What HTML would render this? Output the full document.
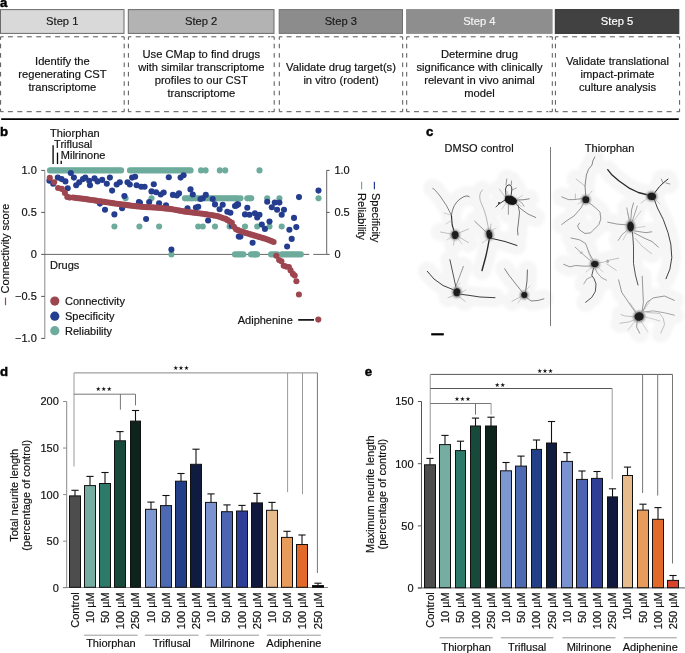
<!DOCTYPE html>
<html><head><meta charset="utf-8"><style>
html,body{margin:0;padding:0;background:#fff;}
svg{display:block;font-family:'Liberation Sans', Arial, Helvetica, sans-serif;}
</style></head><body>
<svg width="685" height="653" viewBox="0 0 685 653">
<text x="0.00" y="6.60" font-size="13.2" text-anchor="start" font-weight="bold" fill="#000" stroke="#000" stroke-width="0.45">a</text>
<rect x="0.50" y="9.60" width="123.50" height="23.80" fill="#d9d9d9" stroke="#6a6a6a" stroke-width="1" />
<text x="62.25" y="25.00" font-size="11.2" text-anchor="middle" font-weight="normal" fill="#1a1a1a"  stroke="#1a1a1a" stroke-width="0.18">Step 1</text>
<rect x="128.30" y="9.60" width="145.70" height="23.80" fill="#b3b3b3" stroke="#6a6a6a" stroke-width="1" />
<text x="201.15" y="25.00" font-size="11.2" text-anchor="middle" font-weight="normal" fill="#1a1a1a"  stroke="#1a1a1a" stroke-width="0.18">Step 2</text>
<rect x="279.20" y="9.60" width="123.30" height="23.80" fill="#8c8c8c" stroke="#707070" stroke-width="1" />
<text x="340.85" y="25.00" font-size="11.2" text-anchor="middle" font-weight="normal" fill="#1a1a1a"  stroke="#1a1a1a" stroke-width="0.18">Step 3</text>
<rect x="406.60" y="9.60" width="145.50" height="23.80" fill="#8e8e8e" stroke="#8e8e8e" stroke-width="1" />
<text x="479.35" y="25.00" font-size="11.2" text-anchor="middle" font-weight="normal" fill="#f4f4f4"  stroke="#f4f4f4" stroke-width="0.18">Step 4</text>
<rect x="555.30" y="9.60" width="123.50" height="23.80" fill="#414141" stroke="#333333" stroke-width="1" />
<text x="617.05" y="25.00" font-size="11.2" text-anchor="middle" font-weight="normal" fill="#ffffff"  stroke="#ffffff" stroke-width="0.18">Step 5</text>
<path d="M0.60,39.80 L0.60,36.80 L3.60,36.80 M121.20,36.80 L124.20,36.80 L124.20,39.80 M124.20,108.70 L124.20,111.70 L121.20,111.70 M3.60,111.70 L0.60,111.70 L0.60,108.70" fill="none" stroke="#555" stroke-width="1"/>
<line x1="7.90" y1="36.80" x2="120.20" y2="36.80" stroke="#555" stroke-width="1" stroke-dasharray="5 4.45"/>
<line x1="7.90" y1="111.70" x2="120.20" y2="111.70" stroke="#555" stroke-width="1" stroke-dasharray="5 4.45"/>
<line x1="0.60" y1="43.70" x2="0.60" y2="107.70" stroke="#555" stroke-width="1" stroke-dasharray="4.6 4.8"/>
<line x1="124.20" y1="43.70" x2="124.20" y2="107.70" stroke="#555" stroke-width="1" stroke-dasharray="4.6 4.8"/>
<text x="62.40" y="64.90" font-size="11.2" text-anchor="middle" font-weight="normal" fill="#111"  stroke="#111" stroke-width="0.18">Identify the</text>
<text x="62.40" y="77.75" font-size="11.2" text-anchor="middle" font-weight="normal" fill="#111"  stroke="#111" stroke-width="0.18">regenerating CST</text>
<text x="62.40" y="90.60" font-size="11.2" text-anchor="middle" font-weight="normal" fill="#111"  stroke="#111" stroke-width="0.18">transcriptome</text>
<path d="M128.40,39.80 L128.40,36.80 L131.40,36.80 M271.20,36.80 L274.20,36.80 L274.20,39.80 M274.20,108.70 L274.20,111.70 L271.20,111.70 M131.40,111.70 L128.40,111.70 L128.40,108.70" fill="none" stroke="#555" stroke-width="1"/>
<line x1="135.70" y1="36.80" x2="270.20" y2="36.80" stroke="#555" stroke-width="1" stroke-dasharray="5 4.45"/>
<line x1="135.70" y1="111.70" x2="270.20" y2="111.70" stroke="#555" stroke-width="1" stroke-dasharray="5 4.45"/>
<line x1="128.40" y1="43.70" x2="128.40" y2="107.70" stroke="#555" stroke-width="1" stroke-dasharray="4.6 4.8"/>
<line x1="274.20" y1="43.70" x2="274.20" y2="107.70" stroke="#555" stroke-width="1" stroke-dasharray="4.6 4.8"/>
<text x="201.30" y="58.47" font-size="11.2" text-anchor="middle" font-weight="normal" fill="#111"  stroke="#111" stroke-width="0.18">Use CMap to find drugs</text>
<text x="201.30" y="71.32" font-size="11.2" text-anchor="middle" font-weight="normal" fill="#111"  stroke="#111" stroke-width="0.18">with similar transcriptome</text>
<text x="201.30" y="84.17" font-size="11.2" text-anchor="middle" font-weight="normal" fill="#111"  stroke="#111" stroke-width="0.18">profiles to our CST</text>
<text x="201.30" y="97.02" font-size="11.2" text-anchor="middle" font-weight="normal" fill="#111"  stroke="#111" stroke-width="0.18">transcriptome</text>
<path d="M279.30,39.80 L279.30,36.80 L282.30,36.80 M399.70,36.80 L402.70,36.80 L402.70,39.80 M402.70,108.70 L402.70,111.70 L399.70,111.70 M282.30,111.70 L279.30,111.70 L279.30,108.70" fill="none" stroke="#555" stroke-width="1"/>
<line x1="286.60" y1="36.80" x2="398.70" y2="36.80" stroke="#555" stroke-width="1" stroke-dasharray="5 4.45"/>
<line x1="286.60" y1="111.70" x2="398.70" y2="111.70" stroke="#555" stroke-width="1" stroke-dasharray="5 4.45"/>
<line x1="279.30" y1="43.70" x2="279.30" y2="107.70" stroke="#555" stroke-width="1" stroke-dasharray="4.6 4.8"/>
<line x1="402.70" y1="43.70" x2="402.70" y2="107.70" stroke="#555" stroke-width="1" stroke-dasharray="4.6 4.8"/>
<text x="341.00" y="71.33" font-size="11.2" text-anchor="middle" font-weight="normal" fill="#111"  stroke="#111" stroke-width="0.18">Validate drug target(s)</text>
<text x="341.00" y="84.17" font-size="11.2" text-anchor="middle" font-weight="normal" fill="#111"  stroke="#111" stroke-width="0.18">in vitro (rodent)</text>
<path d="M406.70,39.80 L406.70,36.80 L409.70,36.80 M549.30,36.80 L552.30,36.80 L552.30,39.80 M552.30,108.70 L552.30,111.70 L549.30,111.70 M409.70,111.70 L406.70,111.70 L406.70,108.70" fill="none" stroke="#555" stroke-width="1"/>
<line x1="414.00" y1="36.80" x2="548.30" y2="36.80" stroke="#555" stroke-width="1" stroke-dasharray="5 4.45"/>
<line x1="414.00" y1="111.70" x2="548.30" y2="111.70" stroke="#555" stroke-width="1" stroke-dasharray="5 4.45"/>
<line x1="406.70" y1="43.70" x2="406.70" y2="107.70" stroke="#555" stroke-width="1" stroke-dasharray="4.6 4.8"/>
<line x1="552.30" y1="43.70" x2="552.30" y2="107.70" stroke="#555" stroke-width="1" stroke-dasharray="4.6 4.8"/>
<text x="479.50" y="58.47" font-size="11.2" text-anchor="middle" font-weight="normal" fill="#111"  stroke="#111" stroke-width="0.18">Determine drug</text>
<text x="479.50" y="71.32" font-size="11.2" text-anchor="middle" font-weight="normal" fill="#111"  stroke="#111" stroke-width="0.18">significance with clinically</text>
<text x="479.50" y="84.17" font-size="11.2" text-anchor="middle" font-weight="normal" fill="#111"  stroke="#111" stroke-width="0.18">relevant in vivo animal</text>
<text x="479.50" y="97.02" font-size="11.2" text-anchor="middle" font-weight="normal" fill="#111"  stroke="#111" stroke-width="0.18">model</text>
<path d="M555.40,39.80 L555.40,36.80 L558.40,36.80 M676.60,36.80 L679.60,36.80 L679.60,39.80 M679.60,108.70 L679.60,111.70 L676.60,111.70 M558.40,111.70 L555.40,111.70 L555.40,108.70" fill="none" stroke="#555" stroke-width="1"/>
<line x1="562.70" y1="36.80" x2="675.60" y2="36.80" stroke="#555" stroke-width="1" stroke-dasharray="5 4.45"/>
<line x1="562.70" y1="111.70" x2="675.60" y2="111.70" stroke="#555" stroke-width="1" stroke-dasharray="5 4.45"/>
<line x1="555.40" y1="43.70" x2="555.40" y2="107.70" stroke="#555" stroke-width="1" stroke-dasharray="4.6 4.8"/>
<line x1="679.60" y1="43.70" x2="679.60" y2="107.70" stroke="#555" stroke-width="1" stroke-dasharray="4.6 4.8"/>
<text x="617.50" y="64.90" font-size="11.2" text-anchor="middle" font-weight="normal" fill="#111"  stroke="#111" stroke-width="0.18">Validate translational</text>
<text x="617.50" y="77.75" font-size="11.2" text-anchor="middle" font-weight="normal" fill="#111"  stroke="#111" stroke-width="0.18">impact-primate</text>
<text x="617.50" y="90.60" font-size="11.2" text-anchor="middle" font-weight="normal" fill="#111"  stroke="#111" stroke-width="0.18">culture analysis</text>
<line x1="1.20" y1="119.10" x2="678.80" y2="119.10" stroke="#000" stroke-width="1.7" />
<text x="0.00" y="135.80" font-size="13.2" text-anchor="start" font-weight="bold" fill="#000" stroke="#000" stroke-width="0.45">b</text>
<line x1="44.80" y1="170.40" x2="44.80" y2="338.90" stroke="#8a8a8a" stroke-width="1" />
<line x1="41.20" y1="170.40" x2="44.80" y2="170.40" stroke="#555" stroke-width="1" />
<line x1="41.20" y1="212.40" x2="44.80" y2="212.40" stroke="#555" stroke-width="1" />
<line x1="41.20" y1="254.40" x2="44.80" y2="254.40" stroke="#555" stroke-width="1" />
<line x1="41.20" y1="296.40" x2="44.80" y2="296.40" stroke="#555" stroke-width="1" />
<line x1="41.20" y1="338.40" x2="44.80" y2="338.40" stroke="#555" stroke-width="1" />
<text x="36.80" y="174.30" font-size="11" text-anchor="end" font-weight="normal" fill="#111"  stroke="#111" stroke-width="0.18">1.0</text>
<text x="36.80" y="216.30" font-size="11" text-anchor="end" font-weight="normal" fill="#111"  stroke="#111" stroke-width="0.18">0.5</text>
<text x="36.80" y="258.30" font-size="11" text-anchor="end" font-weight="normal" fill="#111"  stroke="#111" stroke-width="0.18">0</text>
<text x="36.80" y="300.30" font-size="11" text-anchor="end" font-weight="normal" fill="#111"  stroke="#111" stroke-width="0.18">−0.5</text>
<text x="36.80" y="342.30" font-size="11" text-anchor="end" font-weight="normal" fill="#111"  stroke="#111" stroke-width="0.18">−1.0</text>
<line x1="44.80" y1="254.40" x2="309.20" y2="254.40" stroke="#666" stroke-width="1" />
<line x1="313.30" y1="254.40" x2="326.70" y2="254.40" stroke="#666" stroke-width="1" />
<line x1="326.70" y1="170.40" x2="326.70" y2="254.40" stroke="#666" stroke-width="1" />
<line x1="326.70" y1="170.40" x2="329.60" y2="170.40" stroke="#555" stroke-width="1" />
<line x1="326.70" y1="212.40" x2="329.60" y2="212.40" stroke="#555" stroke-width="1" />
<line x1="326.70" y1="254.40" x2="329.60" y2="254.40" stroke="#555" stroke-width="1" />
<text x="334.40" y="174.30" font-size="11" text-anchor="start" font-weight="normal" fill="#111"  stroke="#111" stroke-width="0.18">1.0</text>
<text x="334.40" y="216.30" font-size="11" text-anchor="start" font-weight="normal" fill="#111"  stroke="#111" stroke-width="0.18">0.5</text>
<text x="334.40" y="258.30" font-size="11" text-anchor="start" font-weight="normal" fill="#111"  stroke="#111" stroke-width="0.18">0</text>
<text transform="translate(371.9,193.0) rotate(90)" font-size="11" fill="#111" stroke="#111" stroke-width="0.18">Specificity</text>
<text transform="translate(357.8,193.0) rotate(90)" font-size="11" fill="#111" stroke="#111" stroke-width="0.18">Reliability</text>
<line x1="374.40" y1="181.80" x2="374.40" y2="189.20" stroke="#243d8f" stroke-width="1.2" />
<line x1="361.60" y1="181.80" x2="361.60" y2="189.20" stroke="#6dab9c" stroke-width="1.2" />
<text transform="translate(9.4,293.4) rotate(-90)" font-size="11" fill="#111" stroke="#111" stroke-width="0.18">Connectivity score</text>
<line x1="5.50" y1="297.60" x2="5.50" y2="305.20" stroke="#9e4650" stroke-width="1.2" />
<text x="50.00" y="269.30" font-size="11" text-anchor="start" font-weight="normal" fill="#111"  stroke="#111" stroke-width="0.18">Drugs</text>
<text x="50.10" y="136.80" font-size="11" text-anchor="start" font-weight="normal" fill="#111"  stroke="#111" stroke-width="0.18">Thiorphan</text>
<text x="54.10" y="147.70" font-size="11" text-anchor="start" font-weight="normal" fill="#111"  stroke="#111" stroke-width="0.18">Triflusal</text>
<text x="60.80" y="158.70" font-size="11" text-anchor="start" font-weight="normal" fill="#111"  stroke="#111" stroke-width="0.18">Milrinone</text>
<line x1="53.10" y1="145.30" x2="53.10" y2="164.00" stroke="#000" stroke-width="1.3" />
<line x1="57.50" y1="152.60" x2="57.50" y2="164.00" stroke="#000" stroke-width="1.3" />
<line x1="61.20" y1="160.70" x2="61.20" y2="164.00" stroke="#000" stroke-width="1.3" />
<circle cx="50.00" cy="170.40" r="3.05" fill="#6dab9c"/>
<circle cx="52.09" cy="170.40" r="3.05" fill="#6dab9c"/>
<circle cx="54.18" cy="170.40" r="3.05" fill="#6dab9c"/>
<circle cx="56.27" cy="170.40" r="3.05" fill="#6dab9c"/>
<circle cx="58.36" cy="170.40" r="3.05" fill="#6dab9c"/>
<circle cx="60.45" cy="170.40" r="3.05" fill="#6dab9c"/>
<circle cx="62.54" cy="170.40" r="3.05" fill="#6dab9c"/>
<circle cx="64.63" cy="170.40" r="3.05" fill="#6dab9c"/>
<circle cx="66.72" cy="170.40" r="3.05" fill="#6dab9c"/>
<circle cx="68.81" cy="170.40" r="3.05" fill="#6dab9c"/>
<circle cx="70.90" cy="170.40" r="3.05" fill="#6dab9c"/>
<circle cx="72.99" cy="170.40" r="3.05" fill="#6dab9c"/>
<circle cx="75.08" cy="170.40" r="3.05" fill="#6dab9c"/>
<circle cx="77.17" cy="170.40" r="3.05" fill="#6dab9c"/>
<circle cx="79.26" cy="170.40" r="3.05" fill="#6dab9c"/>
<circle cx="81.35" cy="170.40" r="3.05" fill="#6dab9c"/>
<circle cx="83.44" cy="170.40" r="3.05" fill="#6dab9c"/>
<circle cx="85.53" cy="170.40" r="3.05" fill="#6dab9c"/>
<circle cx="87.62" cy="170.40" r="3.05" fill="#6dab9c"/>
<circle cx="89.71" cy="170.40" r="3.05" fill="#6dab9c"/>
<circle cx="91.80" cy="170.40" r="3.05" fill="#6dab9c"/>
<circle cx="93.89" cy="170.40" r="3.05" fill="#6dab9c"/>
<circle cx="95.98" cy="170.40" r="3.05" fill="#6dab9c"/>
<circle cx="98.07" cy="170.40" r="3.05" fill="#6dab9c"/>
<circle cx="100.16" cy="170.40" r="3.05" fill="#6dab9c"/>
<circle cx="102.25" cy="170.40" r="3.05" fill="#6dab9c"/>
<circle cx="104.34" cy="170.40" r="3.05" fill="#6dab9c"/>
<circle cx="106.43" cy="170.40" r="3.05" fill="#6dab9c"/>
<circle cx="108.52" cy="170.40" r="3.05" fill="#6dab9c"/>
<circle cx="110.61" cy="170.40" r="3.05" fill="#6dab9c"/>
<circle cx="112.70" cy="170.40" r="3.05" fill="#6dab9c"/>
<circle cx="114.79" cy="170.40" r="3.05" fill="#6dab9c"/>
<circle cx="116.88" cy="170.40" r="3.05" fill="#6dab9c"/>
<circle cx="118.97" cy="170.40" r="3.05" fill="#6dab9c"/>
<circle cx="121.06" cy="170.40" r="3.05" fill="#6dab9c"/>
<circle cx="130.00" cy="170.40" r="3.05" fill="#6dab9c"/>
<circle cx="132.09" cy="170.40" r="3.05" fill="#6dab9c"/>
<circle cx="134.18" cy="170.40" r="3.05" fill="#6dab9c"/>
<circle cx="136.27" cy="170.40" r="3.05" fill="#6dab9c"/>
<circle cx="138.36" cy="170.40" r="3.05" fill="#6dab9c"/>
<circle cx="140.45" cy="170.40" r="3.05" fill="#6dab9c"/>
<circle cx="142.54" cy="170.40" r="3.05" fill="#6dab9c"/>
<circle cx="144.63" cy="170.40" r="3.05" fill="#6dab9c"/>
<circle cx="146.72" cy="170.40" r="3.05" fill="#6dab9c"/>
<circle cx="148.81" cy="170.40" r="3.05" fill="#6dab9c"/>
<circle cx="150.90" cy="170.40" r="3.05" fill="#6dab9c"/>
<circle cx="152.99" cy="170.40" r="3.05" fill="#6dab9c"/>
<circle cx="155.08" cy="170.40" r="3.05" fill="#6dab9c"/>
<circle cx="157.17" cy="170.40" r="3.05" fill="#6dab9c"/>
<circle cx="159.26" cy="170.40" r="3.05" fill="#6dab9c"/>
<circle cx="161.35" cy="170.40" r="3.05" fill="#6dab9c"/>
<circle cx="163.44" cy="170.40" r="3.05" fill="#6dab9c"/>
<circle cx="165.53" cy="170.40" r="3.05" fill="#6dab9c"/>
<circle cx="167.62" cy="170.40" r="3.05" fill="#6dab9c"/>
<circle cx="169.71" cy="170.40" r="3.05" fill="#6dab9c"/>
<circle cx="171.80" cy="170.40" r="3.05" fill="#6dab9c"/>
<circle cx="173.89" cy="170.40" r="3.05" fill="#6dab9c"/>
<circle cx="175.98" cy="170.40" r="3.05" fill="#6dab9c"/>
<circle cx="178.07" cy="170.40" r="3.05" fill="#6dab9c"/>
<circle cx="180.16" cy="170.40" r="3.05" fill="#6dab9c"/>
<circle cx="182.25" cy="170.40" r="3.05" fill="#6dab9c"/>
<circle cx="184.34" cy="170.40" r="3.05" fill="#6dab9c"/>
<circle cx="186.43" cy="170.40" r="3.05" fill="#6dab9c"/>
<circle cx="188.52" cy="170.40" r="3.05" fill="#6dab9c"/>
<circle cx="190.61" cy="170.40" r="3.05" fill="#6dab9c"/>
<circle cx="201.00" cy="170.40" r="3.05" fill="#6dab9c"/>
<circle cx="205.60" cy="170.40" r="3.05" fill="#6dab9c"/>
<circle cx="219.80" cy="170.40" r="3.05" fill="#6dab9c"/>
<circle cx="225.20" cy="170.40" r="3.05" fill="#6dab9c"/>
<circle cx="259.50" cy="170.40" r="3.05" fill="#6dab9c"/>
<circle cx="125.60" cy="198.37" r="3.05" fill="#6dab9c"/>
<circle cx="151.50" cy="198.37" r="3.05" fill="#6dab9c"/>
<circle cx="184.90" cy="198.37" r="3.05" fill="#6dab9c"/>
<circle cx="187.00" cy="198.37" r="3.05" fill="#6dab9c"/>
<circle cx="189.00" cy="198.37" r="3.05" fill="#6dab9c"/>
<circle cx="191.00" cy="198.37" r="3.05" fill="#6dab9c"/>
<circle cx="193.00" cy="198.37" r="3.05" fill="#6dab9c"/>
<circle cx="195.50" cy="198.37" r="3.05" fill="#6dab9c"/>
<circle cx="197.50" cy="198.37" r="3.05" fill="#6dab9c"/>
<circle cx="199.50" cy="198.37" r="3.05" fill="#6dab9c"/>
<circle cx="202.00" cy="198.37" r="3.05" fill="#6dab9c"/>
<circle cx="204.00" cy="198.37" r="3.05" fill="#6dab9c"/>
<circle cx="206.00" cy="198.37" r="3.05" fill="#6dab9c"/>
<circle cx="208.00" cy="198.37" r="3.05" fill="#6dab9c"/>
<circle cx="210.00" cy="198.37" r="3.05" fill="#6dab9c"/>
<circle cx="212.00" cy="198.37" r="3.05" fill="#6dab9c"/>
<circle cx="214.00" cy="198.37" r="3.05" fill="#6dab9c"/>
<circle cx="216.00" cy="198.37" r="3.05" fill="#6dab9c"/>
<circle cx="218.00" cy="198.37" r="3.05" fill="#6dab9c"/>
<circle cx="220.00" cy="198.37" r="3.05" fill="#6dab9c"/>
<circle cx="222.00" cy="198.37" r="3.05" fill="#6dab9c"/>
<circle cx="224.00" cy="198.37" r="3.05" fill="#6dab9c"/>
<circle cx="226.00" cy="198.37" r="3.05" fill="#6dab9c"/>
<circle cx="228.00" cy="198.37" r="3.05" fill="#6dab9c"/>
<circle cx="230.00" cy="198.37" r="3.05" fill="#6dab9c"/>
<circle cx="232.00" cy="198.37" r="3.05" fill="#6dab9c"/>
<circle cx="234.00" cy="198.37" r="3.05" fill="#6dab9c"/>
<circle cx="236.00" cy="198.37" r="3.05" fill="#6dab9c"/>
<circle cx="237.60" cy="198.37" r="3.05" fill="#6dab9c"/>
<circle cx="240.50" cy="198.37" r="3.05" fill="#6dab9c"/>
<circle cx="247.30" cy="198.37" r="3.05" fill="#6dab9c"/>
<circle cx="249.30" cy="198.37" r="3.05" fill="#6dab9c"/>
<circle cx="251.20" cy="198.37" r="3.05" fill="#6dab9c"/>
<circle cx="267.20" cy="198.37" r="3.05" fill="#6dab9c"/>
<circle cx="279.40" cy="198.37" r="3.05" fill="#6dab9c"/>
<circle cx="318.50" cy="198.37" r="3.05" fill="#6dab9c"/>
<circle cx="114.40" cy="226.43" r="3.05" fill="#6dab9c"/>
<circle cx="139.40" cy="226.43" r="3.05" fill="#6dab9c"/>
<circle cx="159.10" cy="226.43" r="3.05" fill="#6dab9c"/>
<circle cx="198.20" cy="226.43" r="3.05" fill="#6dab9c"/>
<circle cx="202.80" cy="226.43" r="3.05" fill="#6dab9c"/>
<circle cx="215.00" cy="226.43" r="3.05" fill="#6dab9c"/>
<circle cx="229.60" cy="226.43" r="3.05" fill="#6dab9c"/>
<circle cx="245.00" cy="226.43" r="3.05" fill="#6dab9c"/>
<circle cx="257.20" cy="226.43" r="3.05" fill="#6dab9c"/>
<circle cx="269.50" cy="226.43" r="3.05" fill="#6dab9c"/>
<circle cx="281.70" cy="226.43" r="3.05" fill="#6dab9c"/>
<circle cx="171.40" cy="254.40" r="3.05" fill="#6dab9c"/>
<circle cx="235.00" cy="254.40" r="3.05" fill="#6dab9c"/>
<circle cx="237.09" cy="254.40" r="3.05" fill="#6dab9c"/>
<circle cx="239.18" cy="254.40" r="3.05" fill="#6dab9c"/>
<circle cx="241.27" cy="254.40" r="3.05" fill="#6dab9c"/>
<circle cx="243.36" cy="254.40" r="3.05" fill="#6dab9c"/>
<circle cx="251.00" cy="254.40" r="3.05" fill="#6dab9c"/>
<circle cx="253.09" cy="254.40" r="3.05" fill="#6dab9c"/>
<circle cx="255.18" cy="254.40" r="3.05" fill="#6dab9c"/>
<circle cx="255.00" cy="254.40" r="3.05" fill="#6dab9c"/>
<circle cx="257.09" cy="254.40" r="3.05" fill="#6dab9c"/>
<circle cx="271.10" cy="254.40" r="3.05" fill="#6dab9c"/>
<circle cx="273.19" cy="254.40" r="3.05" fill="#6dab9c"/>
<circle cx="275.28" cy="254.40" r="3.05" fill="#6dab9c"/>
<circle cx="277.37" cy="254.40" r="3.05" fill="#6dab9c"/>
<circle cx="282.00" cy="254.40" r="3.05" fill="#6dab9c"/>
<circle cx="284.09" cy="254.40" r="3.05" fill="#6dab9c"/>
<circle cx="286.18" cy="254.40" r="3.05" fill="#6dab9c"/>
<circle cx="288.27" cy="254.40" r="3.05" fill="#6dab9c"/>
<circle cx="290.36" cy="254.40" r="3.05" fill="#6dab9c"/>
<circle cx="292.45" cy="254.40" r="3.05" fill="#6dab9c"/>
<circle cx="294.54" cy="254.40" r="3.05" fill="#6dab9c"/>
<circle cx="296.63" cy="254.40" r="3.05" fill="#6dab9c"/>
<circle cx="298.72" cy="254.40" r="3.05" fill="#6dab9c"/>
<circle cx="300.81" cy="254.40" r="3.05" fill="#6dab9c"/>
<circle cx="49.40" cy="180.70" r="3.05" fill="#243d8f"/>
<circle cx="53.20" cy="183.70" r="3.05" fill="#243d8f"/>
<circle cx="57.80" cy="177.60" r="3.05" fill="#243d8f"/>
<circle cx="61.60" cy="179.10" r="3.05" fill="#243d8f"/>
<circle cx="65.40" cy="181.40" r="3.05" fill="#243d8f"/>
<circle cx="67.70" cy="188.30" r="3.05" fill="#243d8f"/>
<circle cx="70.80" cy="173.00" r="3.05" fill="#243d8f"/>
<circle cx="73.90" cy="177.60" r="3.05" fill="#243d8f"/>
<circle cx="76.20" cy="185.30" r="3.05" fill="#243d8f"/>
<circle cx="79.20" cy="182.20" r="3.05" fill="#243d8f"/>
<circle cx="83.00" cy="179.10" r="3.05" fill="#243d8f"/>
<circle cx="85.30" cy="177.60" r="3.05" fill="#243d8f"/>
<circle cx="89.20" cy="180.70" r="3.05" fill="#243d8f"/>
<circle cx="90.00" cy="185.30" r="3.05" fill="#243d8f"/>
<circle cx="94.50" cy="178.40" r="3.05" fill="#243d8f"/>
<circle cx="97.60" cy="181.40" r="3.05" fill="#243d8f"/>
<circle cx="102.20" cy="179.90" r="3.05" fill="#243d8f"/>
<circle cx="106.80" cy="183.70" r="3.05" fill="#243d8f"/>
<circle cx="109.90" cy="177.60" r="3.05" fill="#243d8f"/>
<circle cx="112.10" cy="190.60" r="3.05" fill="#243d8f"/>
<circle cx="116.70" cy="184.50" r="3.05" fill="#243d8f"/>
<circle cx="119.80" cy="182.20" r="3.05" fill="#243d8f"/>
<circle cx="124.40" cy="196.00" r="3.05" fill="#243d8f"/>
<circle cx="127.50" cy="182.20" r="3.05" fill="#243d8f"/>
<circle cx="129.80" cy="184.50" r="3.05" fill="#243d8f"/>
<circle cx="132.10" cy="177.60" r="3.05" fill="#243d8f"/>
<circle cx="135.10" cy="176.80" r="3.05" fill="#243d8f"/>
<circle cx="136.60" cy="185.30" r="3.05" fill="#243d8f"/>
<circle cx="141.20" cy="186.80" r="3.05" fill="#243d8f"/>
<circle cx="99.90" cy="203.60" r="3.05" fill="#243d8f"/>
<circle cx="105.00" cy="209.80" r="3.05" fill="#243d8f"/>
<circle cx="114.40" cy="214.40" r="3.05" fill="#243d8f"/>
<circle cx="122.10" cy="208.20" r="3.05" fill="#243d8f"/>
<circle cx="138.90" cy="202.10" r="3.05" fill="#243d8f"/>
<circle cx="144.60" cy="186.80" r="3.05" fill="#243d8f"/>
<circle cx="153.80" cy="184.20" r="3.05" fill="#243d8f"/>
<circle cx="151.50" cy="191.40" r="3.05" fill="#243d8f"/>
<circle cx="156.10" cy="192.20" r="3.05" fill="#243d8f"/>
<circle cx="160.70" cy="194.50" r="3.05" fill="#243d8f"/>
<circle cx="163.70" cy="192.50" r="3.05" fill="#243d8f"/>
<circle cx="168.80" cy="177.20" r="3.05" fill="#243d8f"/>
<circle cx="180.60" cy="177.60" r="3.05" fill="#243d8f"/>
<circle cx="183.60" cy="175.30" r="3.05" fill="#243d8f"/>
<circle cx="172.90" cy="194.90" r="3.05" fill="#243d8f"/>
<circle cx="176.80" cy="195.50" r="3.05" fill="#243d8f"/>
<circle cx="179.00" cy="193.40" r="3.05" fill="#243d8f"/>
<circle cx="190.50" cy="189.40" r="3.05" fill="#243d8f"/>
<circle cx="192.80" cy="194.50" r="3.05" fill="#243d8f"/>
<circle cx="200.50" cy="199.00" r="3.05" fill="#243d8f"/>
<circle cx="202.80" cy="198.30" r="3.05" fill="#243d8f"/>
<circle cx="205.80" cy="194.90" r="3.05" fill="#243d8f"/>
<circle cx="212.70" cy="199.00" r="3.05" fill="#243d8f"/>
<circle cx="215.00" cy="204.40" r="3.05" fill="#243d8f"/>
<circle cx="219.60" cy="209.30" r="3.05" fill="#243d8f"/>
<circle cx="222.70" cy="204.70" r="3.05" fill="#243d8f"/>
<circle cx="227.30" cy="211.80" r="3.05" fill="#243d8f"/>
<circle cx="230.40" cy="212.80" r="3.05" fill="#243d8f"/>
<circle cx="235.00" cy="206.00" r="3.05" fill="#243d8f"/>
<circle cx="237.20" cy="204.40" r="3.05" fill="#243d8f"/>
<circle cx="140.00" cy="202.90" r="3.05" fill="#243d8f"/>
<circle cx="149.20" cy="202.10" r="3.05" fill="#243d8f"/>
<circle cx="159.10" cy="203.20" r="3.05" fill="#243d8f"/>
<circle cx="166.00" cy="205.20" r="3.05" fill="#243d8f"/>
<circle cx="146.10" cy="219.00" r="3.05" fill="#243d8f"/>
<circle cx="187.50" cy="208.20" r="3.05" fill="#243d8f"/>
<circle cx="195.90" cy="207.50" r="3.05" fill="#243d8f"/>
<circle cx="198.20" cy="206.70" r="3.05" fill="#243d8f"/>
<circle cx="208.10" cy="220.50" r="3.05" fill="#243d8f"/>
<circle cx="171.40" cy="249.60" r="3.05" fill="#243d8f"/>
<circle cx="238.80" cy="236.60" r="3.05" fill="#243d8f"/>
<circle cx="231.90" cy="225.80" r="3.05" fill="#243d8f"/>
<circle cx="236.50" cy="205.60" r="3.05" fill="#243d8f"/>
<circle cx="238.10" cy="204.40" r="3.05" fill="#243d8f"/>
<circle cx="247.30" cy="207.80" r="3.05" fill="#243d8f"/>
<circle cx="245.00" cy="214.40" r="3.05" fill="#243d8f"/>
<circle cx="249.50" cy="214.80" r="3.05" fill="#243d8f"/>
<circle cx="254.90" cy="213.30" r="3.05" fill="#243d8f"/>
<circle cx="257.20" cy="217.40" r="3.05" fill="#243d8f"/>
<circle cx="259.50" cy="214.80" r="3.05" fill="#243d8f"/>
<circle cx="261.80" cy="224.60" r="3.05" fill="#243d8f"/>
<circle cx="264.90" cy="228.90" r="3.05" fill="#243d8f"/>
<circle cx="269.50" cy="221.60" r="3.05" fill="#243d8f"/>
<circle cx="267.20" cy="201.70" r="3.05" fill="#243d8f"/>
<circle cx="271.80" cy="207.20" r="3.05" fill="#243d8f"/>
<circle cx="274.80" cy="202.60" r="3.05" fill="#243d8f"/>
<circle cx="279.40" cy="202.60" r="3.05" fill="#243d8f"/>
<circle cx="277.10" cy="209.80" r="3.05" fill="#243d8f"/>
<circle cx="284.00" cy="209.80" r="3.05" fill="#243d8f"/>
<circle cx="281.70" cy="214.80" r="3.05" fill="#243d8f"/>
<circle cx="299.00" cy="197.10" r="3.05" fill="#243d8f"/>
<circle cx="294.00" cy="217.90" r="3.05" fill="#243d8f"/>
<circle cx="296.30" cy="227.10" r="3.05" fill="#243d8f"/>
<circle cx="289.40" cy="229.70" r="3.05" fill="#243d8f"/>
<circle cx="291.70" cy="238.90" r="3.05" fill="#243d8f"/>
<circle cx="287.10" cy="246.50" r="3.05" fill="#243d8f"/>
<circle cx="240.40" cy="236.60" r="3.05" fill="#243d8f"/>
<circle cx="252.60" cy="242.70" r="3.05" fill="#243d8f"/>
<circle cx="318.50" cy="190.60" r="3.05" fill="#243d8f"/>
<circle cx="49.80" cy="177.90" r="3.05" fill="#9e4650"/>
<circle cx="54.10" cy="182.20" r="3.05" fill="#9e4650"/>
<circle cx="58.10" cy="188.00" r="3.05" fill="#9e4650"/>
<circle cx="61.80" cy="188.90" r="3.05" fill="#9e4650"/>
<circle cx="64.90" cy="192.90" r="3.05" fill="#9e4650"/>
<circle cx="67.30" cy="196.90" r="3.05" fill="#9e4650"/>
<circle cx="69.50" cy="197.60" r="3.05" fill="#9e4650"/>
<circle cx="72.99" cy="197.57" r="3.05" fill="#9e4650"/>
<circle cx="75.08" cy="197.83" r="3.05" fill="#9e4650"/>
<circle cx="77.17" cy="198.09" r="3.05" fill="#9e4650"/>
<circle cx="79.26" cy="198.35" r="3.05" fill="#9e4650"/>
<circle cx="81.35" cy="198.60" r="3.05" fill="#9e4650"/>
<circle cx="83.44" cy="198.86" r="3.05" fill="#9e4650"/>
<circle cx="85.53" cy="199.12" r="3.05" fill="#9e4650"/>
<circle cx="87.62" cy="199.38" r="3.05" fill="#9e4650"/>
<circle cx="89.71" cy="199.69" r="3.05" fill="#9e4650"/>
<circle cx="91.80" cy="200.00" r="3.05" fill="#9e4650"/>
<circle cx="93.89" cy="200.32" r="3.05" fill="#9e4650"/>
<circle cx="95.98" cy="200.63" r="3.05" fill="#9e4650"/>
<circle cx="98.07" cy="200.95" r="3.05" fill="#9e4650"/>
<circle cx="100.16" cy="201.26" r="3.05" fill="#9e4650"/>
<circle cx="102.25" cy="201.58" r="3.05" fill="#9e4650"/>
<circle cx="104.34" cy="201.89" r="3.05" fill="#9e4650"/>
<circle cx="106.43" cy="202.21" r="3.05" fill="#9e4650"/>
<circle cx="108.52" cy="202.52" r="3.05" fill="#9e4650"/>
<circle cx="110.61" cy="202.84" r="3.05" fill="#9e4650"/>
<circle cx="112.70" cy="203.15" r="3.05" fill="#9e4650"/>
<circle cx="114.79" cy="203.47" r="3.05" fill="#9e4650"/>
<circle cx="116.88" cy="203.78" r="3.05" fill="#9e4650"/>
<circle cx="118.97" cy="204.06" r="3.05" fill="#9e4650"/>
<circle cx="121.06" cy="204.33" r="3.05" fill="#9e4650"/>
<circle cx="123.15" cy="204.60" r="3.05" fill="#9e4650"/>
<circle cx="125.24" cy="204.87" r="3.05" fill="#9e4650"/>
<circle cx="127.33" cy="205.14" r="3.05" fill="#9e4650"/>
<circle cx="129.42" cy="205.42" r="3.05" fill="#9e4650"/>
<circle cx="131.51" cy="205.69" r="3.05" fill="#9e4650"/>
<circle cx="133.60" cy="205.92" r="3.05" fill="#9e4650"/>
<circle cx="135.69" cy="206.15" r="3.05" fill="#9e4650"/>
<circle cx="137.78" cy="206.38" r="3.05" fill="#9e4650"/>
<circle cx="139.87" cy="206.60" r="3.05" fill="#9e4650"/>
<circle cx="141.96" cy="206.83" r="3.05" fill="#9e4650"/>
<circle cx="144.05" cy="207.02" r="3.05" fill="#9e4650"/>
<circle cx="146.14" cy="207.11" r="3.05" fill="#9e4650"/>
<circle cx="148.23" cy="207.20" r="3.05" fill="#9e4650"/>
<circle cx="150.32" cy="207.29" r="3.05" fill="#9e4650"/>
<circle cx="152.41" cy="207.38" r="3.05" fill="#9e4650"/>
<circle cx="154.50" cy="207.47" r="3.05" fill="#9e4650"/>
<circle cx="156.59" cy="207.63" r="3.05" fill="#9e4650"/>
<circle cx="158.68" cy="207.83" r="3.05" fill="#9e4650"/>
<circle cx="160.77" cy="208.04" r="3.05" fill="#9e4650"/>
<circle cx="162.86" cy="208.24" r="3.05" fill="#9e4650"/>
<circle cx="164.95" cy="208.45" r="3.05" fill="#9e4650"/>
<circle cx="167.04" cy="208.65" r="3.05" fill="#9e4650"/>
<circle cx="169.13" cy="208.86" r="3.05" fill="#9e4650"/>
<circle cx="171.22" cy="209.11" r="3.05" fill="#9e4650"/>
<circle cx="173.31" cy="209.49" r="3.05" fill="#9e4650"/>
<circle cx="175.40" cy="209.87" r="3.05" fill="#9e4650"/>
<circle cx="177.49" cy="210.25" r="3.05" fill="#9e4650"/>
<circle cx="179.58" cy="210.63" r="3.05" fill="#9e4650"/>
<circle cx="181.67" cy="211.01" r="3.05" fill="#9e4650"/>
<circle cx="183.76" cy="211.39" r="3.05" fill="#9e4650"/>
<circle cx="185.85" cy="211.77" r="3.05" fill="#9e4650"/>
<circle cx="187.94" cy="212.03" r="3.05" fill="#9e4650"/>
<circle cx="190.03" cy="212.27" r="3.05" fill="#9e4650"/>
<circle cx="192.12" cy="212.52" r="3.05" fill="#9e4650"/>
<circle cx="194.21" cy="212.77" r="3.05" fill="#9e4650"/>
<circle cx="196.30" cy="213.01" r="3.05" fill="#9e4650"/>
<circle cx="198.39" cy="213.26" r="3.05" fill="#9e4650"/>
<circle cx="200.48" cy="213.50" r="3.05" fill="#9e4650"/>
<circle cx="202.57" cy="213.79" r="3.05" fill="#9e4650"/>
<circle cx="204.66" cy="214.11" r="3.05" fill="#9e4650"/>
<circle cx="206.75" cy="214.42" r="3.05" fill="#9e4650"/>
<circle cx="208.84" cy="214.73" r="3.05" fill="#9e4650"/>
<circle cx="210.93" cy="215.05" r="3.05" fill="#9e4650"/>
<circle cx="213.02" cy="215.36" r="3.05" fill="#9e4650"/>
<circle cx="215.11" cy="215.68" r="3.05" fill="#9e4650"/>
<circle cx="217.20" cy="216.10" r="3.05" fill="#9e4650"/>
<circle cx="219.29" cy="216.81" r="3.05" fill="#9e4650"/>
<circle cx="221.38" cy="217.51" r="3.05" fill="#9e4650"/>
<circle cx="223.47" cy="218.21" r="3.05" fill="#9e4650"/>
<circle cx="225.56" cy="218.92" r="3.05" fill="#9e4650"/>
<circle cx="227.65" cy="220.15" r="3.05" fill="#9e4650"/>
<circle cx="229.74" cy="221.45" r="3.05" fill="#9e4650"/>
<circle cx="231.83" cy="222.76" r="3.05" fill="#9e4650"/>
<circle cx="233.92" cy="226.77" r="3.05" fill="#9e4650"/>
<circle cx="236.01" cy="229.31" r="3.05" fill="#9e4650"/>
<circle cx="238.10" cy="230.15" r="3.05" fill="#9e4650"/>
<circle cx="240.19" cy="230.99" r="3.05" fill="#9e4650"/>
<circle cx="242.28" cy="231.83" r="3.05" fill="#9e4650"/>
<circle cx="244.37" cy="232.51" r="3.05" fill="#9e4650"/>
<circle cx="246.46" cy="233.14" r="3.05" fill="#9e4650"/>
<circle cx="248.55" cy="233.77" r="3.05" fill="#9e4650"/>
<circle cx="250.64" cy="234.40" r="3.05" fill="#9e4650"/>
<circle cx="252.73" cy="235.03" r="3.05" fill="#9e4650"/>
<circle cx="254.82" cy="235.65" r="3.05" fill="#9e4650"/>
<circle cx="256.91" cy="236.27" r="3.05" fill="#9e4650"/>
<circle cx="259.00" cy="236.90" r="3.05" fill="#9e4650"/>
<circle cx="261.09" cy="237.54" r="3.05" fill="#9e4650"/>
<circle cx="263.18" cy="238.17" r="3.05" fill="#9e4650"/>
<circle cx="265.27" cy="238.80" r="3.05" fill="#9e4650"/>
<circle cx="267.36" cy="239.55" r="3.05" fill="#9e4650"/>
<circle cx="269.45" cy="240.33" r="3.05" fill="#9e4650"/>
<circle cx="271.54" cy="241.10" r="3.05" fill="#9e4650"/>
<circle cx="273.63" cy="241.97" r="3.05" fill="#9e4650"/>
<circle cx="276.30" cy="255.80" r="3.05" fill="#9e4650"/>
<circle cx="279.10" cy="260.10" r="3.05" fill="#9e4650"/>
<circle cx="281.40" cy="261.20" r="3.05" fill="#9e4650"/>
<circle cx="283.70" cy="265.80" r="3.05" fill="#9e4650"/>
<circle cx="286.00" cy="266.60" r="3.05" fill="#9e4650"/>
<circle cx="288.90" cy="267.00" r="3.05" fill="#9e4650"/>
<circle cx="290.60" cy="270.40" r="3.05" fill="#9e4650"/>
<circle cx="292.90" cy="273.90" r="3.05" fill="#9e4650"/>
<circle cx="294.70" cy="275.60" r="3.05" fill="#9e4650"/>
<circle cx="296.40" cy="281.30" r="3.05" fill="#9e4650"/>
<circle cx="298.90" cy="294.50" r="3.05" fill="#9e4650"/>
<text x="292.80" y="323.60" font-size="11" text-anchor="end" font-weight="normal" fill="#111"  stroke="#111" stroke-width="0.18">Adiphenine</text>
<line x1="298.20" y1="319.90" x2="314.00" y2="319.90" stroke="#000" stroke-width="1.6" />
<circle cx="318.30" cy="319.60" r="3.05" fill="#9e4650"/>
<circle cx="54.80" cy="301.10" r="4.6" fill="#9e4650"/>
<text x="65.00" y="305.00" font-size="11" text-anchor="start" font-weight="normal" fill="#111"  stroke="#111" stroke-width="0.18">Connectivity</text>
<circle cx="54.80" cy="316.20" r="4.6" fill="#243d8f"/>
<text x="65.00" y="320.10" font-size="11" text-anchor="start" font-weight="normal" fill="#111"  stroke="#111" stroke-width="0.18">Specificity</text>
<circle cx="54.80" cy="330.70" r="4.6" fill="#6dab9c"/>
<text x="65.00" y="334.60" font-size="11" text-anchor="start" font-weight="normal" fill="#111"  stroke="#111" stroke-width="0.18">Reliability</text>
<g fill="none" stroke="#f6f6f6" stroke-width="19" stroke-linecap="round" stroke-linejoin="round" filter="url(#bl)"><path d="M455.1,234.7 L452.2,225 L451.4,215.1"/><path d="M451.4,215.1 Q447,205 440,196 T432.6,188.3"/><path d="M451.4,215.1 Q453,204 460,199 T469.4,196.8"/><path d="M455.1,234.7 L440.3,232"/><path d="M455.1,234.7 L468.6,228.9"/><path d="M455.1,234.7 L468.6,242.7"/><path d="M455.1,234.7 L453.5,245"/><path d="M489.3,235 Q487,215 482,205 T482.4,189.9"/><path d="M489.3,235 L474.7,221.3"/><path d="M489.3,235 L491,224"/><path d="M489.5,238 Q487,252 485.4,258 T482,270.5"/><path d="M490,238 L505,241.5 L517,245.5"/><path d="M506,196 L505.5,189 Q506,185 509,184.8 Q512,185 511.8,190 L511,196"/><path d="M506,185 L506.8,178.9"/><path d="M511.2,185 L511.6,181"/><path d="M512,190 L516.4,188"/><path d="M505,200 L499,204 L496,206.8"/><path d="M505,197 L499.3,189"/><path d="M516,200 L523,199.8 L529.3,198.8"/><path d="M519,201 L522,203 L524,206.3"/><path d="M516,204 L521,209 L528,214 L535.7,217.5"/><path d="M518,205 L519.5,212 L518.5,222 L517.5,230 L518,235"/><path d="M508.4,204 L508.4,214.3"/><path d="M456.5,290 L453.5,276 L449.9,259.7"/><path d="M456,286 L463.4,266.4"/><path d="M454,290 L443,285.5 L434,279 L427.3,271.3"/><path d="M459,294 L470,295.5 L480,297 L495,297.7"/><path d="M455,295 L448,297.7"/><path d="M458,296 L465.2,301.4"/><path d="M523,293 L515,283 L508,274 L504.7,268.8"/><path d="M525.5,292 L527,281 L527.4,270"/><path d="M526,297 L531,301 L538,300.5 L543.9,298.8"/><path d="M522,296 L512,301.3"/><path d="M585.8,197 L585,186 L586.4,175 L588.5,169.3 L592,165 L592.8,161 L594.8,156.9"/><path d="M585,186 L576.1,179"/><path d="M583,198.5 L574,199.6 L568.5,199.6 L561.7,196.9"/><path d="M575.4,198.5 L575.4,194"/><path d="M584,202 L581,208 L574,216 L567,220.5 L561.7,224.5"/><path d="M588,202 L594,206.5 L600,212 L600.8,219 L598.9,224.5 L593.5,230 L590.6,232.8 L585,233.5 L579.6,230 L577.5,225.9 L579.6,223.1"/><path d="M648,195 L638.3,192.5 L628.7,187.8 L619.1,181 L611.5,174.4 L607.7,169.6"/><path d="M654.5,193 L659.3,186.8 L663.2,183 L668,179.1"/><path d="M663.2,183 L661.3,179.1"/><path d="M666,183 L669.9,184"/><path d="M654.5,200 L657.4,207.9 L663.2,219.3 L668,232.7 L670.8,244.2 L671.8,257.6 L669.9,269.1 L666,278.7"/><path d="M630.6,222 L631.6,209.8 L633.5,203"/><path d="M629.5,222 L626.8,207.9"/><path d="M632,222 L637.3,206"/><path d="M628,225 L617.2,224.1 L607.7,222.2"/><path d="M628.5,229 L622,234.7 L618.2,240.4"/><path d="M632.5,232 L633.5,246.1 L633.5,263.4 L635.4,274.9 L638,285"/><path d="M635,231 L646,232.7 L651.7,231.8"/><path d="M634.5,233 L644,238 L652,241.5 L658.4,247.1"/><path d="M635.4,238.5 L642,246.1 L651.7,253.8"/><path d="M593.5,261 L589.3,253.3 L585.6,243.5 L579.5,239.8 L570.9,238"/><path d="M592,262 L583.2,254.5 L575.2,247.2"/><path d="M591.2,266 L584.4,266.2 L575.8,265.5 L569.7,266.8 L563.6,264.3"/><path d="M593.6,268 L591.8,275.3 L594.2,279 L596,283.9 L595.4,291.3 L591.8,297.4 L585.6,302.3"/><path d="M591.8,276.6 L586.9,279 L583.8,283.9"/><path d="M595.4,269 L597.3,272.9 L601.6,277.8 L606.5,280.2"/><path d="M598.5,262.8 L604,262.1 L607.7,260.6 L612.6,259.4 L618.7,258.2"/><path d="M606.5,263.7 L616.3,270.4"/><path d="M636,313 L631,306 L626,298.5 L621.7,292.3 L618.6,279.9"/><path d="M642,312 L643.4,302.2 L642.8,289.8 L642.2,276.2"/><path d="M643,311 L647.1,302.2 L653.3,297.9 L664.5,296 L674.4,300.4"/><path d="M643.5,312 L653.3,310.9 L664.5,312.8 L674.4,315.2"/><path d="M647,312.5 L659.6,313.4 L663.3,318.4 L664.5,324.6 L660.8,333.2"/><path d="M635,317 L624.8,315.9 L621.1,314.6"/><path d="M635.5,319.6 L628.5,322 L619.9,323.3"/><path d="M637.2,320.8 L636.6,327.1 L639.7,333.2"/></g>
<text x="425.90" y="136.30" font-size="13.2" text-anchor="start" font-weight="bold" fill="#000" stroke="#000" stroke-width="0.45">c</text>
<text x="444.60" y="152.40" font-size="11" text-anchor="start" font-weight="normal" fill="#111"  stroke="#111" stroke-width="0.18">DMSO control</text>
<text x="584.80" y="152.40" font-size="11" text-anchor="start" font-weight="normal" fill="#111"  stroke="#111" stroke-width="0.18">Thiorphan</text>
<line x1="550.50" y1="147.00" x2="550.50" y2="326.00" stroke="#7a7a7a" stroke-width="1" />
<line x1="431.20" y1="334.30" x2="443.80" y2="334.30" stroke="#000" stroke-width="2.2" />
<defs><filter id="bl" x="-20%" y="-20%" width="140%" height="140%"><feGaussianBlur stdDeviation="1.6"/></filter><filter id="bl2" x="-50%" y="-50%" width="200%" height="200%"><feGaussianBlur stdDeviation="0.9"/></filter></defs>
<path d="M455.1,234.7 L452.2,225 L451.4,215.1" fill="none" stroke="#2a2a2a" stroke-width="1.1" stroke-linecap="round" stroke-linejoin="round"/>
<path d="M451.4,215.1 Q447,205 440,196 T432.6,188.3" fill="none" stroke="#555" stroke-width="0.7" stroke-linecap="round" stroke-linejoin="round"/>
<path d="M451.4,215.1 Q453,204 460,199 T469.4,196.8" fill="none" stroke="#555" stroke-width="0.8" stroke-linecap="round" stroke-linejoin="round"/>
<path d="M455.1,234.7 L440.3,232" fill="none" stroke="#8a8a8a" stroke-width="0.5" stroke-linecap="round" stroke-linejoin="round"/>
<path d="M455.1,234.7 L468.6,228.9" fill="none" stroke="#8a8a8a" stroke-width="0.5" stroke-linecap="round" stroke-linejoin="round"/>
<path d="M455.1,234.7 L468.6,242.7" fill="none" stroke="#8a8a8a" stroke-width="0.5" stroke-linecap="round" stroke-linejoin="round"/>
<path d="M455.1,234.7 L453.5,245" fill="none" stroke="#8a8a8a" stroke-width="0.5" stroke-linecap="round" stroke-linejoin="round"/>
<ellipse cx="455.1" cy="235" rx="4.6" ry="5.1" transform="rotate(0 455.1 235)" fill="#777" filter="url(#bl2)"/>
<ellipse cx="455.1" cy="235" rx="3.4" ry="3.9" transform="rotate(0 455.1 235)" fill="#1c1c1c"/>
<path d="M489.3,235 Q487,215 482,205 T482.4,189.9" fill="none" stroke="#8a8a8a" stroke-width="0.6" stroke-linecap="round" stroke-linejoin="round"/>
<path d="M489.3,235 L474.7,221.3" fill="none" stroke="#555" stroke-width="0.6" stroke-linecap="round" stroke-linejoin="round"/>
<path d="M489.3,235 L491,224" fill="none" stroke="#8a8a8a" stroke-width="0.5" stroke-linecap="round" stroke-linejoin="round"/>
<path d="M489.5,238 Q487,252 485.4,258 T482,270.5" fill="none" stroke="#2a2a2a" stroke-width="1.4" stroke-linecap="round" stroke-linejoin="round"/>
<path d="M490,238 L505,241.5 L517,245.5" fill="none" stroke="#2a2a2a" stroke-width="1.0" stroke-linecap="round" stroke-linejoin="round"/>
<ellipse cx="489.3" cy="234.5" rx="4.0" ry="5.8" transform="rotate(-10 489.3 234.5)" fill="#777" filter="url(#bl2)"/>
<ellipse cx="489.3" cy="234.5" rx="2.8" ry="4.6" transform="rotate(-10 489.3 234.5)" fill="#1c1c1c"/>
<path d="M506,196 L505.5,189 Q506,185 509,184.8 Q512,185 511.8,190 L511,196" fill="none" stroke="#2a2a2a" stroke-width="0.9" stroke-linecap="round" stroke-linejoin="round"/>
<path d="M506,185 L506.8,178.9" fill="none" stroke="#555" stroke-width="0.6" stroke-linecap="round" stroke-linejoin="round"/>
<path d="M511.2,185 L511.6,181" fill="none" stroke="#555" stroke-width="0.6" stroke-linecap="round" stroke-linejoin="round"/>
<path d="M512,190 L516.4,188" fill="none" stroke="#555" stroke-width="0.5" stroke-linecap="round" stroke-linejoin="round"/>
<path d="M505,200 L499,204 L496,206.8" fill="none" stroke="#2a2a2a" stroke-width="0.9" stroke-linecap="round" stroke-linejoin="round"/>
<path d="M505,197 L499.3,189" fill="none" stroke="#8a8a8a" stroke-width="0.5" stroke-linecap="round" stroke-linejoin="round"/>
<path d="M516,200 L523,199.8 L529.3,198.8" fill="none" stroke="#555" stroke-width="0.7" stroke-linecap="round" stroke-linejoin="round"/>
<path d="M519,201 L522,203 L524,206.3" fill="none" stroke="#555" stroke-width="0.5" stroke-linecap="round" stroke-linejoin="round"/>
<path d="M516,204 L521,209 L528,214 L535.7,217.5" fill="none" stroke="#555" stroke-width="0.7" stroke-linecap="round" stroke-linejoin="round"/>
<path d="M518,205 L519.5,212 L518.5,222 L517.5,230 L518,235" fill="none" stroke="#555" stroke-width="0.8" stroke-linecap="round" stroke-linejoin="round"/>
<path d="M508.4,204 L508.4,214.3" fill="none" stroke="#555" stroke-width="0.6" stroke-linecap="round" stroke-linejoin="round"/>
<path d="M505.2,196.6 L507.9,195.5 L512.2,196.1 L515.4,198.2 L517.3,200.9 L516.4,203.6 L513.2,204.9 L509.5,204.4 L506.3,202.5 L504.7,200.4 Z" fill="#777" filter="url(#bl2)"/>
<path d="M505.2,196.6 L507.9,195.5 L512.2,196.1 L515.4,198.2 L517.3,200.9 L516.4,203.6 L513.2,204.9 L509.5,204.4 L506.3,202.5 L504.7,200.4 Z" fill="#151515"/>
<circle cx="499" cy="203" r="1.1" fill="#333"/>
<path d="M456.5,290 L453.5,276 L449.9,259.7" fill="none" stroke="#2a2a2a" stroke-width="0.8" stroke-linecap="round" stroke-linejoin="round"/>
<path d="M456,286 L463.4,266.4" fill="none" stroke="#555" stroke-width="0.6" stroke-linecap="round" stroke-linejoin="round"/>
<path d="M454,290 L443,285.5 L434,279 L427.3,271.3" fill="none" stroke="#2a2a2a" stroke-width="0.9" stroke-linecap="round" stroke-linejoin="round"/>
<path d="M459,294 L470,295.5 L480,297 L495,297.7" fill="none" stroke="#2a2a2a" stroke-width="0.9" stroke-linecap="round" stroke-linejoin="round"/>
<path d="M455,295 L448,297.7" fill="none" stroke="#8a8a8a" stroke-width="0.5" stroke-linecap="round" stroke-linejoin="round"/>
<path d="M458,296 L465.2,301.4" fill="none" stroke="#8a8a8a" stroke-width="0.5" stroke-linecap="round" stroke-linejoin="round"/>
<ellipse cx="456.9" cy="292.2" rx="4.6" ry="5.2" transform="rotate(0 456.9 292.2)" fill="#777" filter="url(#bl2)"/>
<ellipse cx="456.9" cy="292.2" rx="3.4" ry="4.0" transform="rotate(0 456.9 292.2)" fill="#1c1c1c"/>
<path d="M523,293 L515,283 L508,274 L504.7,268.8" fill="none" stroke="#555" stroke-width="0.7" stroke-linecap="round" stroke-linejoin="round"/>
<path d="M525.5,292 L527,281 L527.4,270" fill="none" stroke="#2a2a2a" stroke-width="0.7" stroke-linecap="round" stroke-linejoin="round"/>
<path d="M526,297 L531,301 L538,300.5 L543.9,298.8" fill="none" stroke="#555" stroke-width="0.7" stroke-linecap="round" stroke-linejoin="round"/>
<path d="M522,296 L512,301.3" fill="none" stroke="#8a8a8a" stroke-width="0.5" stroke-linecap="round" stroke-linejoin="round"/>
<ellipse cx="524.3" cy="295.1" rx="4.2" ry="4.2" transform="rotate(0 524.3 295.1)" fill="#777" filter="url(#bl2)"/>
<ellipse cx="524.3" cy="295.1" rx="3.0" ry="3.0" transform="rotate(0 524.3 295.1)" fill="#1c1c1c"/>
<path d="M585.8,197 L585,186 L586.4,175 L588.5,169.3 L592,165 L592.8,161 L594.8,156.9" fill="none" stroke="#555" stroke-width="0.7" stroke-linecap="round" stroke-linejoin="round"/>
<path d="M585,186 L576.1,179" fill="none" stroke="#8a8a8a" stroke-width="0.5" stroke-linecap="round" stroke-linejoin="round"/>
<path d="M583,198.5 L574,199.6 L568.5,199.6 L561.7,196.9" fill="none" stroke="#555" stroke-width="0.6" stroke-linecap="round" stroke-linejoin="round"/>
<path d="M575.4,198.5 L575.4,194" fill="none" stroke="#8a8a8a" stroke-width="0.5" stroke-linecap="round" stroke-linejoin="round"/>
<path d="M584,202 L581,208 L574,216 L567,220.5 L561.7,224.5" fill="none" stroke="#555" stroke-width="0.6" stroke-linecap="round" stroke-linejoin="round"/>
<path d="M588,202 L594,206.5 L600,212 L600.8,219 L598.9,224.5 L593.5,230 L590.6,232.8 L585,233.5 L579.6,230 L577.5,225.9 L579.6,223.1" fill="none" stroke="#555" stroke-width="0.6" stroke-linecap="round" stroke-linejoin="round"/>
<ellipse cx="585.8" cy="199.7" rx="4.6" ry="4.6" transform="rotate(0 585.8 199.7)" fill="#777" filter="url(#bl2)"/>
<ellipse cx="585.8" cy="199.7" rx="3.4" ry="3.4" transform="rotate(0 585.8 199.7)" fill="#1c1c1c"/>
<path d="M648,195 L638.3,192.5 L628.7,187.8 L619.1,181 L611.5,174.4 L607.7,169.6" fill="none" stroke="#2a2a2a" stroke-width="1.3" stroke-linecap="round" stroke-linejoin="round"/>
<path d="M654.5,193 L659.3,186.8 L663.2,183 L668,179.1" fill="none" stroke="#2a2a2a" stroke-width="1.0" stroke-linecap="round" stroke-linejoin="round"/>
<path d="M663.2,183 L661.3,179.1" fill="none" stroke="#555" stroke-width="0.6" stroke-linecap="round" stroke-linejoin="round"/>
<path d="M666,183 L669.9,184" fill="none" stroke="#555" stroke-width="0.6" stroke-linecap="round" stroke-linejoin="round"/>
<path d="M654.5,200 L657.4,207.9 L663.2,219.3 L668,232.7 L670.8,244.2 L671.8,257.6 L669.9,269.1 L666,278.7" fill="none" stroke="#2a2a2a" stroke-width="0.9" stroke-linecap="round" stroke-linejoin="round"/>
<ellipse cx="651.7" cy="196.4" rx="5.5" ry="4.8" transform="rotate(10 651.7 196.4)" fill="#777" filter="url(#bl2)"/>
<ellipse cx="651.7" cy="196.4" rx="4.3" ry="3.6" transform="rotate(10 651.7 196.4)" fill="#1c1c1c"/>
<path d="M630.6,222 L631.6,209.8 L633.5,203" fill="none" stroke="#555" stroke-width="0.6" stroke-linecap="round" stroke-linejoin="round"/>
<path d="M629.5,222 L626.8,207.9" fill="none" stroke="#555" stroke-width="0.5" stroke-linecap="round" stroke-linejoin="round"/>
<path d="M632,222 L637.3,206" fill="none" stroke="#555" stroke-width="0.5" stroke-linecap="round" stroke-linejoin="round"/>
<path d="M628,225 L617.2,224.1 L607.7,222.2" fill="none" stroke="#555" stroke-width="0.6" stroke-linecap="round" stroke-linejoin="round"/>
<path d="M628.5,229 L622,234.7 L618.2,240.4" fill="none" stroke="#555" stroke-width="0.5" stroke-linecap="round" stroke-linejoin="round"/>
<path d="M632.5,232 L633.5,246.1 L633.5,263.4 L635.4,274.9 L638,285" fill="none" stroke="#2a2a2a" stroke-width="0.8" stroke-linecap="round" stroke-linejoin="round"/>
<path d="M635,231 L646,232.7 L651.7,231.8" fill="none" stroke="#555" stroke-width="0.6" stroke-linecap="round" stroke-linejoin="round"/>
<path d="M634.5,233 L644,238 L652,241.5 L658.4,247.1" fill="none" stroke="#555" stroke-width="0.6" stroke-linecap="round" stroke-linejoin="round"/>
<path d="M635.4,238.5 L642,246.1 L651.7,253.8" fill="none" stroke="#8a8a8a" stroke-width="0.5" stroke-linecap="round" stroke-linejoin="round"/>
<ellipse cx="630.6" cy="226.5" rx="4.5" ry="6.2" transform="rotate(-5 630.6 226.5)" fill="#777" filter="url(#bl2)"/>
<ellipse cx="630.6" cy="226.5" rx="3.3" ry="5.0" transform="rotate(-5 630.6 226.5)" fill="#1c1c1c"/>
<path d="M593.5,261 L589.3,253.3 L585.6,243.5 L579.5,239.8 L570.9,238" fill="none" stroke="#555" stroke-width="0.6" stroke-linecap="round" stroke-linejoin="round"/>
<path d="M592,262 L583.2,254.5 L575.2,247.2" fill="none" stroke="#555" stroke-width="0.5" stroke-linecap="round" stroke-linejoin="round"/>
<path d="M591.2,266 L584.4,266.2 L575.8,265.5 L569.7,266.8 L563.6,264.3" fill="none" stroke="#555" stroke-width="0.6" stroke-linecap="round" stroke-linejoin="round"/>
<path d="M593.6,268 L591.8,275.3 L594.2,279 L596,283.9 L595.4,291.3 L591.8,297.4 L585.6,302.3" fill="none" stroke="#2a2a2a" stroke-width="0.8" stroke-linecap="round" stroke-linejoin="round"/>
<path d="M591.8,276.6 L586.9,279 L583.8,283.9" fill="none" stroke="#555" stroke-width="0.5" stroke-linecap="round" stroke-linejoin="round"/>
<path d="M595.4,269 L597.3,272.9 L601.6,277.8 L606.5,280.2" fill="none" stroke="#555" stroke-width="0.5" stroke-linecap="round" stroke-linejoin="round"/>
<path d="M598.5,262.8 L604,262.1 L607.7,260.6 L612.6,259.4 L618.7,258.2" fill="none" stroke="#8a8a8a" stroke-width="0.5" stroke-linecap="round" stroke-linejoin="round"/>
<path d="M606.5,263.7 L616.3,270.4" fill="none" stroke="#8a8a8a" stroke-width="0.5" stroke-linecap="round" stroke-linejoin="round"/>
<ellipse cx="594.8" cy="264.1" rx="4.9" ry="4.3" transform="rotate(0 594.8 264.1)" fill="#777" filter="url(#bl2)"/>
<ellipse cx="594.8" cy="264.1" rx="3.7" ry="3.1" transform="rotate(0 594.8 264.1)" fill="#1c1c1c"/>
<ellipse cx="607.7" cy="261.2" rx="1.3" ry="1.8" fill="#aaa"/><ellipse cx="581.3" cy="252.7" rx="1.6" ry="1.2" fill="#bbb"/>
<path d="M636,313 L631,306 L626,298.5 L621.7,292.3 L618.6,279.9" fill="none" stroke="#555" stroke-width="0.6" stroke-linecap="round" stroke-linejoin="round"/>
<path d="M642,312 L643.4,302.2 L642.8,289.8 L642.2,276.2" fill="none" stroke="#555" stroke-width="0.6" stroke-linecap="round" stroke-linejoin="round"/>
<path d="M643,311 L647.1,302.2 L653.3,297.9 L664.5,296 L674.4,300.4" fill="none" stroke="#555" stroke-width="0.6" stroke-linecap="round" stroke-linejoin="round"/>
<path d="M643.5,312 L653.3,310.9 L664.5,312.8 L674.4,315.2" fill="none" stroke="#555" stroke-width="0.5" stroke-linecap="round" stroke-linejoin="round"/>
<path d="M647,312.5 L659.6,313.4 L663.3,318.4 L664.5,324.6 L660.8,333.2" fill="none" stroke="#8a8a8a" stroke-width="0.5" stroke-linecap="round" stroke-linejoin="round"/>
<path d="M635,317 L624.8,315.9 L621.1,314.6" fill="none" stroke="#8a8a8a" stroke-width="0.5" stroke-linecap="round" stroke-linejoin="round"/>
<path d="M635.5,319.6 L628.5,322 L619.9,323.3" fill="none" stroke="#8a8a8a" stroke-width="0.5" stroke-linecap="round" stroke-linejoin="round"/>
<path d="M637.2,320.8 L636.6,327.1 L639.7,333.2" fill="none" stroke="#555" stroke-width="0.6" stroke-linecap="round" stroke-linejoin="round"/>
<ellipse cx="639.1" cy="316.5" rx="5.8" ry="5.5" transform="rotate(-20 639.1 316.5)" fill="#777" filter="url(#bl2)"/>
<ellipse cx="639.1" cy="316.5" rx="4.6" ry="4.3" transform="rotate(-20 639.1 316.5)" fill="#1c1c1c"/>
<path d="M517,199 L522.5,195.5" fill="none" stroke="#9a9a9a" stroke-width="0.45" stroke-linecap="round"/>
<path d="M516.5,202 L521.5,206.5" fill="none" stroke="#9a9a9a" stroke-width="0.45" stroke-linecap="round"/>
<path d="M506,203 L502,209" fill="none" stroke="#9a9a9a" stroke-width="0.45" stroke-linecap="round"/>
<path d="M509,196 L507,191" fill="none" stroke="#9a9a9a" stroke-width="0.45" stroke-linecap="round"/>
<path d="M452,220 L446,224" fill="none" stroke="#9a9a9a" stroke-width="0.45" stroke-linecap="round"/>
<path d="M451.4,215.1 L444,213" fill="none" stroke="#9a9a9a" stroke-width="0.45" stroke-linecap="round"/>
<path d="M457,237 L462,244" fill="none" stroke="#9a9a9a" stroke-width="0.45" stroke-linecap="round"/>
<path d="M453,236 L447,240" fill="none" stroke="#9a9a9a" stroke-width="0.45" stroke-linecap="round"/>
<path d="M490,232 L496,228" fill="none" stroke="#9a9a9a" stroke-width="0.45" stroke-linecap="round"/>
<path d="M488,239 L482,243" fill="none" stroke="#9a9a9a" stroke-width="0.45" stroke-linecap="round"/>
<path d="M630,222 L627.5,212" fill="none" stroke="#9a9a9a" stroke-width="0.45" stroke-linecap="round"/>
<path d="M632.5,222.5 L641,211" fill="none" stroke="#9a9a9a" stroke-width="0.45" stroke-linecap="round"/>
<path d="M634,228 L645,226.5" fill="none" stroke="#9a9a9a" stroke-width="0.45" stroke-linecap="round"/>
<path d="M628,231 L623,240" fill="none" stroke="#9a9a9a" stroke-width="0.45" stroke-linecap="round"/>
<path d="M642,313 L650,301" fill="none" stroke="#9a9a9a" stroke-width="0.45" stroke-linecap="round"/>
<path d="M644,316.5 L660,321" fill="none" stroke="#9a9a9a" stroke-width="0.45" stroke-linecap="round"/>
<path d="M636,320 L628,330" fill="none" stroke="#9a9a9a" stroke-width="0.45" stroke-linecap="round"/>
<path d="M640.5,320.5 L648,332" fill="none" stroke="#9a9a9a" stroke-width="0.45" stroke-linecap="round"/>
<path d="M637,313 L630,303" fill="none" stroke="#9a9a9a" stroke-width="0.45" stroke-linecap="round"/>
<path d="M592,262 L588,251" fill="none" stroke="#9a9a9a" stroke-width="0.45" stroke-linecap="round"/>
<path d="M597,266 L603,272" fill="none" stroke="#9a9a9a" stroke-width="0.45" stroke-linecap="round"/>
<path d="M592,267 L586,272" fill="none" stroke="#9a9a9a" stroke-width="0.45" stroke-linecap="round"/>
<path d="M587,197 L592,191" fill="none" stroke="#9a9a9a" stroke-width="0.45" stroke-linecap="round"/>
<path d="M583,201 L578,204" fill="none" stroke="#9a9a9a" stroke-width="0.45" stroke-linecap="round"/>
<path d="M648,198 L641,203" fill="none" stroke="#9a9a9a" stroke-width="0.45" stroke-linecap="round"/>
<path d="M655,199 L660,204" fill="none" stroke="#9a9a9a" stroke-width="0.45" stroke-linecap="round"/>
<path d="M524,292 L530,286" fill="none" stroke="#9a9a9a" stroke-width="0.45" stroke-linecap="round"/>
<path d="M522,297 L518,303" fill="none" stroke="#9a9a9a" stroke-width="0.45" stroke-linecap="round"/>
<path d="M455,289 L460,283" fill="none" stroke="#9a9a9a" stroke-width="0.45" stroke-linecap="round"/>
<path d="M459,294 L466,290" fill="none" stroke="#9a9a9a" stroke-width="0.45" stroke-linecap="round"/>
<line x1="74.00" y1="372.90" x2="317.40" y2="372.90" stroke="#888" stroke-width="1" />
<line x1="74.00" y1="372.90" x2="74.00" y2="466.50" stroke="#9a9a9a" stroke-width="1" />
<line x1="287.60" y1="372.90" x2="287.60" y2="492.20" stroke="#9a9a9a" stroke-width="1" />
<line x1="302.50" y1="372.90" x2="302.50" y2="494.20" stroke="#9a9a9a" stroke-width="1" />
<line x1="317.40" y1="372.90" x2="317.40" y2="573.00" stroke="#777" stroke-width="1" />
<line x1="74.00" y1="394.20" x2="135.50" y2="394.20" stroke="#777" stroke-width="1" />
<line x1="120.40" y1="394.20" x2="120.40" y2="409.70" stroke="#777" stroke-width="1" />
<line x1="135.50" y1="394.20" x2="135.50" y2="405.40" stroke="#777" stroke-width="1" />
<text x="181.10" y="369.70" font-size="6.1" text-anchor="middle" fill="#111" font-family="DejaVu Sans, sans-serif">★★★</text>
<text x="103.70" y="391.10" font-size="6.1" text-anchor="middle" fill="#111" font-family="DejaVu Sans, sans-serif">★★★</text>
<text x="0.00" y="376.10" font-size="13.2" text-anchor="start" font-weight="bold" fill="#000" stroke="#000" stroke-width="0.45">d</text>
<line x1="66.70" y1="401.50" x2="66.70" y2="587.70" stroke="#8a8a8a" stroke-width="1" />
<line x1="63.10" y1="587.70" x2="66.70" y2="587.70" stroke="#8a8a8a" stroke-width="1" />
<text x="58.80" y="591.60" font-size="11" text-anchor="end" font-weight="normal" fill="#111"  stroke="#111" stroke-width="0.18">0</text>
<line x1="63.10" y1="541.15" x2="66.70" y2="541.15" stroke="#8a8a8a" stroke-width="1" />
<text x="58.80" y="545.05" font-size="11" text-anchor="end" font-weight="normal" fill="#111"  stroke="#111" stroke-width="0.18">50</text>
<line x1="63.10" y1="494.60" x2="66.70" y2="494.60" stroke="#8a8a8a" stroke-width="1" />
<text x="58.80" y="498.50" font-size="11" text-anchor="end" font-weight="normal" fill="#111"  stroke="#111" stroke-width="0.18">100</text>
<line x1="63.10" y1="448.05" x2="66.70" y2="448.05" stroke="#8a8a8a" stroke-width="1" />
<text x="58.80" y="451.95" font-size="11" text-anchor="end" font-weight="normal" fill="#111"  stroke="#111" stroke-width="0.18">150</text>
<line x1="63.10" y1="401.50" x2="66.70" y2="401.50" stroke="#8a8a8a" stroke-width="1" />
<text x="58.80" y="405.40" font-size="11" text-anchor="end" font-weight="normal" fill="#111"  stroke="#111" stroke-width="0.18">200</text>
<line x1="63.10" y1="587.50" x2="328.00" y2="587.50" stroke="#8a8a8a" stroke-width="1" />
<line x1="75.00" y1="495.90" x2="75.00" y2="490.30" stroke="#111" stroke-width="1.1" />
<line x1="71.40" y1="490.30" x2="78.60" y2="490.30" stroke="#111" stroke-width="1.1" />
<rect x="69.50" y="495.90" width="11.00" height="91.40" fill="#4d4d4d" stroke="#111" stroke-width="1" />
<line x1="90.00" y1="485.60" x2="90.00" y2="476.40" stroke="#111" stroke-width="1.1" />
<line x1="86.40" y1="476.40" x2="93.60" y2="476.40" stroke="#111" stroke-width="1.1" />
<rect x="84.50" y="485.60" width="11.00" height="101.70" fill="#76ada2" stroke="#111" stroke-width="1" />
<line x1="105.00" y1="483.50" x2="105.00" y2="472.50" stroke="#111" stroke-width="1.1" />
<line x1="101.40" y1="472.50" x2="108.60" y2="472.50" stroke="#111" stroke-width="1.1" />
<rect x="99.50" y="483.50" width="11.00" height="103.80" fill="#2e7a69" stroke="#111" stroke-width="1" />
<line x1="120.00" y1="440.80" x2="120.00" y2="431.60" stroke="#111" stroke-width="1.1" />
<line x1="116.40" y1="431.60" x2="123.60" y2="431.60" stroke="#111" stroke-width="1.1" />
<rect x="114.50" y="440.80" width="11.00" height="146.50" fill="#174a3a" stroke="#111" stroke-width="1" />
<line x1="135.50" y1="421.10" x2="135.50" y2="410.50" stroke="#111" stroke-width="1.1" />
<line x1="131.90" y1="410.50" x2="139.10" y2="410.50" stroke="#111" stroke-width="1.1" />
<rect x="130.50" y="421.10" width="10.00" height="166.20" fill="#0d231b" stroke="#111" stroke-width="1" />
<line x1="151.00" y1="509.30" x2="151.00" y2="502.10" stroke="#111" stroke-width="1.1" />
<line x1="147.40" y1="502.10" x2="154.60" y2="502.10" stroke="#111" stroke-width="1.1" />
<rect x="145.50" y="509.30" width="11.00" height="78.00" fill="#7d97d0" stroke="#111" stroke-width="1" />
<line x1="166.00" y1="505.60" x2="166.00" y2="495.50" stroke="#111" stroke-width="1.1" />
<line x1="162.40" y1="495.50" x2="169.60" y2="495.50" stroke="#111" stroke-width="1.1" />
<rect x="160.50" y="505.60" width="11.00" height="81.70" fill="#4d69b1" stroke="#111" stroke-width="1" />
<line x1="181.00" y1="481.20" x2="181.00" y2="473.50" stroke="#111" stroke-width="1.1" />
<line x1="177.40" y1="473.50" x2="184.60" y2="473.50" stroke="#111" stroke-width="1.1" />
<rect x="175.50" y="481.20" width="11.00" height="106.10" fill="#233f88" stroke="#111" stroke-width="1" />
<line x1="196.00" y1="464.30" x2="196.00" y2="449.20" stroke="#111" stroke-width="1.1" />
<line x1="192.40" y1="449.20" x2="199.60" y2="449.20" stroke="#111" stroke-width="1.1" />
<rect x="190.50" y="464.30" width="11.00" height="123.00" fill="#0f1b3f" stroke="#111" stroke-width="1" />
<line x1="211.00" y1="502.40" x2="211.00" y2="493.90" stroke="#111" stroke-width="1.1" />
<line x1="207.40" y1="493.90" x2="214.60" y2="493.90" stroke="#111" stroke-width="1.1" />
<rect x="205.50" y="502.40" width="11.00" height="84.90" fill="#7a92cf" stroke="#111" stroke-width="1" />
<line x1="227.00" y1="511.70" x2="227.00" y2="504.90" stroke="#111" stroke-width="1.1" />
<line x1="223.40" y1="504.90" x2="230.60" y2="504.90" stroke="#111" stroke-width="1.1" />
<rect x="221.50" y="511.70" width="11.00" height="75.60" fill="#4d64b0" stroke="#111" stroke-width="1" />
<line x1="242.00" y1="511.00" x2="242.00" y2="505.40" stroke="#111" stroke-width="1.1" />
<line x1="238.40" y1="505.40" x2="245.60" y2="505.40" stroke="#111" stroke-width="1.1" />
<rect x="236.50" y="511.00" width="11.00" height="76.30" fill="#2e3e96" stroke="#111" stroke-width="1" />
<line x1="257.00" y1="502.90" x2="257.00" y2="493.40" stroke="#111" stroke-width="1.1" />
<line x1="253.40" y1="493.40" x2="260.60" y2="493.40" stroke="#111" stroke-width="1.1" />
<rect x="251.50" y="502.90" width="11.00" height="84.40" fill="#10193d" stroke="#111" stroke-width="1" />
<line x1="272.00" y1="510.30" x2="272.00" y2="502.40" stroke="#111" stroke-width="1.1" />
<line x1="268.40" y1="502.40" x2="275.60" y2="502.40" stroke="#111" stroke-width="1.1" />
<rect x="266.50" y="510.30" width="11.00" height="77.00" fill="#e6bc8c" stroke="#111" stroke-width="1" />
<line x1="287.00" y1="537.40" x2="287.00" y2="531.30" stroke="#111" stroke-width="1.1" />
<line x1="283.40" y1="531.30" x2="290.60" y2="531.30" stroke="#111" stroke-width="1.1" />
<rect x="281.50" y="537.40" width="11.00" height="49.90" fill="#e89c5c" stroke="#111" stroke-width="1" />
<line x1="302.00" y1="544.50" x2="302.00" y2="535.00" stroke="#111" stroke-width="1.1" />
<line x1="298.40" y1="535.00" x2="305.60" y2="535.00" stroke="#111" stroke-width="1.1" />
<rect x="296.50" y="544.50" width="11.00" height="42.80" fill="#e16a2a" stroke="#111" stroke-width="1" />
<line x1="318.00" y1="585.60" x2="318.00" y2="583.20" stroke="#111" stroke-width="1.1" />
<line x1="314.40" y1="583.20" x2="321.60" y2="583.20" stroke="#111" stroke-width="1.1" />
<rect x="312.50" y="585.60" width="11.00" height="1.70" fill="#000" stroke="#111" stroke-width="1" />
<text transform="translate(78.65,592.30) rotate(-90)" font-size="11" text-anchor="end" fill="#111" stroke="#111" stroke-width="0.18">Control</text>
<text transform="translate(93.83,592.30) rotate(-90)" font-size="11" text-anchor="end" fill="#111" stroke="#111" stroke-width="0.18">10 µM</text>
<text transform="translate(109.01,592.30) rotate(-90)" font-size="11" text-anchor="end" fill="#111" stroke="#111" stroke-width="0.18">50 µM</text>
<text transform="translate(124.19,592.30) rotate(-90)" font-size="11" text-anchor="end" fill="#111" stroke="#111" stroke-width="0.18">100 µM</text>
<text transform="translate(139.37,592.30) rotate(-90)" font-size="11" text-anchor="end" fill="#111" stroke="#111" stroke-width="0.18">250 µM</text>
<text transform="translate(154.55,592.30) rotate(-90)" font-size="11" text-anchor="end" fill="#111" stroke="#111" stroke-width="0.18">10 µM</text>
<text transform="translate(169.73,592.30) rotate(-90)" font-size="11" text-anchor="end" fill="#111" stroke="#111" stroke-width="0.18">50 µM</text>
<text transform="translate(184.91,592.30) rotate(-90)" font-size="11" text-anchor="end" fill="#111" stroke="#111" stroke-width="0.18">100 µM</text>
<text transform="translate(200.09,592.30) rotate(-90)" font-size="11" text-anchor="end" fill="#111" stroke="#111" stroke-width="0.18">250 µM</text>
<text transform="translate(215.27,592.30) rotate(-90)" font-size="11" text-anchor="end" fill="#111" stroke="#111" stroke-width="0.18">10 µM</text>
<text transform="translate(230.45,592.30) rotate(-90)" font-size="11" text-anchor="end" fill="#111" stroke="#111" stroke-width="0.18">50 µM</text>
<text transform="translate(245.63,592.30) rotate(-90)" font-size="11" text-anchor="end" fill="#111" stroke="#111" stroke-width="0.18">100 µM</text>
<text transform="translate(260.81,592.30) rotate(-90)" font-size="11" text-anchor="end" fill="#111" stroke="#111" stroke-width="0.18">250 µM</text>
<text transform="translate(275.99,592.30) rotate(-90)" font-size="11" text-anchor="end" fill="#111" stroke="#111" stroke-width="0.18">10 µM</text>
<text transform="translate(291.17,592.30) rotate(-90)" font-size="11" text-anchor="end" fill="#111" stroke="#111" stroke-width="0.18">50 µM</text>
<text transform="translate(306.35,592.30) rotate(-90)" font-size="11" text-anchor="end" fill="#111" stroke="#111" stroke-width="0.18">100 µM</text>
<text transform="translate(321.53,592.30) rotate(-90)" font-size="11" text-anchor="end" fill="#111" stroke="#111" stroke-width="0.18">250 µM</text>
<line x1="84.10" y1="635.20" x2="137.70" y2="635.20" stroke="#9a9a9a" stroke-width="1" />
<text x="110.90" y="647.30" font-size="11" text-anchor="middle" font-weight="normal" fill="#111"  stroke="#111" stroke-width="0.18">Thiorphan</text>
<line x1="144.80" y1="635.20" x2="198.60" y2="635.20" stroke="#9a9a9a" stroke-width="1" />
<text x="171.70" y="647.30" font-size="11" text-anchor="middle" font-weight="normal" fill="#111"  stroke="#111" stroke-width="0.18">Triflusal</text>
<line x1="205.80" y1="635.20" x2="259.00" y2="635.20" stroke="#9a9a9a" stroke-width="1" />
<text x="232.40" y="647.30" font-size="11" text-anchor="middle" font-weight="normal" fill="#111"  stroke="#111" stroke-width="0.18">Milrinone</text>
<line x1="266.90" y1="635.20" x2="320.80" y2="635.20" stroke="#9a9a9a" stroke-width="1" />
<text x="293.85" y="647.30" font-size="11" text-anchor="middle" font-weight="normal" fill="#111"  stroke="#111" stroke-width="0.18">Adiphenine</text>
<text transform="translate(17.60,495.30) rotate(-90)" font-size="11" text-anchor="middle" fill="#111" stroke="#111" stroke-width="0.18">Total neurite length</text>
<text transform="translate(30.20,495.30) rotate(-90)" font-size="11" text-anchor="middle" fill="#111" stroke="#111" stroke-width="0.18">(percentage of control)</text>
<line x1="430.30" y1="374.40" x2="672.50" y2="374.40" stroke="#555" stroke-width="1" />
<line x1="430.30" y1="374.40" x2="430.30" y2="453.60" stroke="#b0b0b0" stroke-width="1.3" />
<line x1="642.60" y1="374.40" x2="642.60" y2="493.00" stroke="#777" stroke-width="1" />
<line x1="657.70" y1="374.40" x2="657.70" y2="495.60" stroke="#777" stroke-width="1" />
<line x1="672.50" y1="374.40" x2="672.50" y2="563.50" stroke="#777" stroke-width="1" />
<line x1="430.30" y1="388.50" x2="612.20" y2="388.50" stroke="#555" stroke-width="1" />
<line x1="612.20" y1="388.50" x2="612.20" y2="479.00" stroke="#9a9a9a" stroke-width="1" />
<line x1="430.30" y1="403.50" x2="491.10" y2="403.50" stroke="#777" stroke-width="1" />
<line x1="475.50" y1="403.50" x2="475.50" y2="414.70" stroke="#777" stroke-width="1" />
<line x1="491.10" y1="403.50" x2="491.10" y2="414.70" stroke="#9a9a9a" stroke-width="1" />
<text x="545.10" y="372.80" font-size="6.1" text-anchor="middle" fill="#111" font-family="DejaVu Sans, sans-serif">★★★</text>
<text x="500.00" y="386.80" font-size="6.1" text-anchor="middle" fill="#111" font-family="DejaVu Sans, sans-serif">★★</text>
<text x="462.40" y="400.80" font-size="6.1" text-anchor="middle" fill="#111" font-family="DejaVu Sans, sans-serif">★★★</text>
<text x="364.70" y="376.00" font-size="13.2" text-anchor="start" font-weight="bold" fill="#000" stroke="#000" stroke-width="0.45">e</text>
<line x1="421.50" y1="401.50" x2="421.50" y2="588.10" stroke="#555" stroke-width="1" />
<line x1="417.90" y1="588.10" x2="421.50" y2="588.10" stroke="#555" stroke-width="1" />
<text x="413.60" y="592.00" font-size="11" text-anchor="end" font-weight="normal" fill="#111"  stroke="#111" stroke-width="0.18">0</text>
<line x1="417.90" y1="525.90" x2="421.50" y2="525.90" stroke="#555" stroke-width="1" />
<text x="413.60" y="529.80" font-size="11" text-anchor="end" font-weight="normal" fill="#111"  stroke="#111" stroke-width="0.18">50</text>
<line x1="417.90" y1="463.70" x2="421.50" y2="463.70" stroke="#555" stroke-width="1" />
<text x="413.60" y="467.60" font-size="11" text-anchor="end" font-weight="normal" fill="#111"  stroke="#111" stroke-width="0.18">100</text>
<line x1="417.90" y1="401.50" x2="421.50" y2="401.50" stroke="#555" stroke-width="1" />
<text x="413.60" y="405.40" font-size="11" text-anchor="end" font-weight="normal" fill="#111"  stroke="#111" stroke-width="0.18">150</text>
<line x1="417.90" y1="587.90" x2="685.00" y2="587.90" stroke="#555" stroke-width="1" />
<line x1="430.00" y1="464.80" x2="430.00" y2="458.40" stroke="#111" stroke-width="1.1" />
<line x1="426.40" y1="458.40" x2="433.60" y2="458.40" stroke="#111" stroke-width="1.1" />
<rect x="424.50" y="464.80" width="11.00" height="122.90" fill="#4d4d4d" stroke="#111" stroke-width="1" />
<line x1="445.00" y1="444.60" x2="445.00" y2="435.40" stroke="#111" stroke-width="1.1" />
<line x1="441.40" y1="435.40" x2="448.60" y2="435.40" stroke="#111" stroke-width="1.1" />
<rect x="439.50" y="444.60" width="11.00" height="143.10" fill="#76ada2" stroke="#111" stroke-width="1" />
<line x1="460.50" y1="450.60" x2="460.50" y2="441.20" stroke="#111" stroke-width="1.1" />
<line x1="456.90" y1="441.20" x2="464.10" y2="441.20" stroke="#111" stroke-width="1.1" />
<rect x="455.50" y="450.60" width="10.00" height="137.10" fill="#2e7a69" stroke="#111" stroke-width="1" />
<line x1="475.50" y1="426.00" x2="475.50" y2="418.10" stroke="#111" stroke-width="1.1" />
<line x1="471.90" y1="418.10" x2="479.10" y2="418.10" stroke="#111" stroke-width="1.1" />
<rect x="470.50" y="426.00" width="10.00" height="161.70" fill="#174a3a" stroke="#111" stroke-width="1" />
<line x1="491.00" y1="426.00" x2="491.00" y2="417.20" stroke="#111" stroke-width="1.1" />
<line x1="487.40" y1="417.20" x2="494.60" y2="417.20" stroke="#111" stroke-width="1.1" />
<rect x="485.50" y="426.00" width="11.00" height="161.70" fill="#0d231b" stroke="#111" stroke-width="1" />
<line x1="506.00" y1="470.80" x2="506.00" y2="462.50" stroke="#111" stroke-width="1.1" />
<line x1="502.40" y1="462.50" x2="509.60" y2="462.50" stroke="#111" stroke-width="1.1" />
<rect x="500.50" y="470.80" width="11.00" height="116.90" fill="#7d97d0" stroke="#111" stroke-width="1" />
<line x1="521.00" y1="466.10" x2="521.00" y2="456.10" stroke="#111" stroke-width="1.1" />
<line x1="517.40" y1="456.10" x2="524.60" y2="456.10" stroke="#111" stroke-width="1.1" />
<rect x="515.50" y="466.10" width="11.00" height="121.60" fill="#4d69b1" stroke="#111" stroke-width="1" />
<line x1="536.50" y1="449.40" x2="536.50" y2="440.00" stroke="#111" stroke-width="1.1" />
<line x1="532.90" y1="440.00" x2="540.10" y2="440.00" stroke="#111" stroke-width="1.1" />
<rect x="531.50" y="449.40" width="10.00" height="138.30" fill="#233f88" stroke="#111" stroke-width="1" />
<line x1="551.50" y1="443.00" x2="551.50" y2="421.50" stroke="#111" stroke-width="1.1" />
<line x1="547.90" y1="421.50" x2="555.10" y2="421.50" stroke="#111" stroke-width="1.1" />
<rect x="546.50" y="443.00" width="10.00" height="144.70" fill="#0f1b3f" stroke="#111" stroke-width="1" />
<line x1="567.00" y1="461.40" x2="567.00" y2="452.60" stroke="#111" stroke-width="1.1" />
<line x1="563.40" y1="452.60" x2="570.60" y2="452.60" stroke="#111" stroke-width="1.1" />
<rect x="561.50" y="461.40" width="11.00" height="126.30" fill="#7a92cf" stroke="#111" stroke-width="1" />
<line x1="582.00" y1="479.40" x2="582.00" y2="471.00" stroke="#111" stroke-width="1.1" />
<line x1="578.40" y1="471.00" x2="585.60" y2="471.00" stroke="#111" stroke-width="1.1" />
<rect x="576.50" y="479.40" width="11.00" height="108.30" fill="#4d64b0" stroke="#111" stroke-width="1" />
<line x1="597.00" y1="478.40" x2="597.00" y2="471.50" stroke="#111" stroke-width="1.1" />
<line x1="593.40" y1="471.50" x2="600.60" y2="471.50" stroke="#111" stroke-width="1.1" />
<rect x="591.50" y="478.40" width="11.00" height="109.30" fill="#2e3e96" stroke="#111" stroke-width="1" />
<line x1="612.50" y1="496.90" x2="612.50" y2="488.80" stroke="#111" stroke-width="1.1" />
<line x1="608.90" y1="488.80" x2="616.10" y2="488.80" stroke="#111" stroke-width="1.1" />
<rect x="607.50" y="496.90" width="10.00" height="90.80" fill="#10193d" stroke="#111" stroke-width="1" />
<line x1="627.50" y1="475.50" x2="627.50" y2="467.10" stroke="#111" stroke-width="1.1" />
<line x1="623.90" y1="467.10" x2="631.10" y2="467.10" stroke="#111" stroke-width="1.1" />
<rect x="622.50" y="475.50" width="10.00" height="112.20" fill="#e6bc8c" stroke="#111" stroke-width="1" />
<line x1="643.00" y1="510.10" x2="643.00" y2="504.20" stroke="#111" stroke-width="1.1" />
<line x1="639.40" y1="504.20" x2="646.60" y2="504.20" stroke="#111" stroke-width="1.1" />
<rect x="637.50" y="510.10" width="11.00" height="77.60" fill="#e89c5c" stroke="#111" stroke-width="1" />
<line x1="658.00" y1="519.30" x2="658.00" y2="507.60" stroke="#111" stroke-width="1.1" />
<line x1="654.40" y1="507.60" x2="661.60" y2="507.60" stroke="#111" stroke-width="1.1" />
<rect x="652.50" y="519.30" width="11.00" height="68.40" fill="#e16a2a" stroke="#111" stroke-width="1" />
<line x1="673.00" y1="580.40" x2="673.00" y2="575.50" stroke="#111" stroke-width="1.1" />
<line x1="669.40" y1="575.50" x2="676.60" y2="575.50" stroke="#111" stroke-width="1.1" />
<rect x="667.50" y="580.40" width="11.00" height="7.30" fill="#d6452a" stroke="#111" stroke-width="1" />
<text transform="translate(434.00,592.30) rotate(-90)" font-size="11" text-anchor="end" fill="#111" stroke="#111" stroke-width="0.18">Control</text>
<text transform="translate(449.19,592.30) rotate(-90)" font-size="11" text-anchor="end" fill="#111" stroke="#111" stroke-width="0.18">10 µM</text>
<text transform="translate(464.38,592.30) rotate(-90)" font-size="11" text-anchor="end" fill="#111" stroke="#111" stroke-width="0.18">50 µM</text>
<text transform="translate(479.57,592.30) rotate(-90)" font-size="11" text-anchor="end" fill="#111" stroke="#111" stroke-width="0.18">100 µM</text>
<text transform="translate(494.76,592.30) rotate(-90)" font-size="11" text-anchor="end" fill="#111" stroke="#111" stroke-width="0.18">250 µM</text>
<text transform="translate(509.95,592.30) rotate(-90)" font-size="11" text-anchor="end" fill="#111" stroke="#111" stroke-width="0.18">10 µM</text>
<text transform="translate(525.14,592.30) rotate(-90)" font-size="11" text-anchor="end" fill="#111" stroke="#111" stroke-width="0.18">50 µM</text>
<text transform="translate(540.33,592.30) rotate(-90)" font-size="11" text-anchor="end" fill="#111" stroke="#111" stroke-width="0.18">100 µM</text>
<text transform="translate(555.52,592.30) rotate(-90)" font-size="11" text-anchor="end" fill="#111" stroke="#111" stroke-width="0.18">250 µM</text>
<text transform="translate(570.71,592.30) rotate(-90)" font-size="11" text-anchor="end" fill="#111" stroke="#111" stroke-width="0.18">10 µM</text>
<text transform="translate(585.90,592.30) rotate(-90)" font-size="11" text-anchor="end" fill="#111" stroke="#111" stroke-width="0.18">50 µM</text>
<text transform="translate(601.09,592.30) rotate(-90)" font-size="11" text-anchor="end" fill="#111" stroke="#111" stroke-width="0.18">100 µM</text>
<text transform="translate(616.28,592.30) rotate(-90)" font-size="11" text-anchor="end" fill="#111" stroke="#111" stroke-width="0.18">250 µM</text>
<text transform="translate(631.47,592.30) rotate(-90)" font-size="11" text-anchor="end" fill="#111" stroke="#111" stroke-width="0.18">10µM</text>
<text transform="translate(646.66,592.30) rotate(-90)" font-size="11" text-anchor="end" fill="#111" stroke="#111" stroke-width="0.18">50 µM</text>
<text transform="translate(661.85,592.30) rotate(-90)" font-size="11" text-anchor="end" fill="#111" stroke="#111" stroke-width="0.18">100 µM</text>
<text transform="translate(677.04,592.30) rotate(-90)" font-size="11" text-anchor="end" fill="#111" stroke="#111" stroke-width="0.18">250 µM</text>
<line x1="439.60" y1="637.80" x2="492.80" y2="637.80" stroke="#9a9a9a" stroke-width="1" />
<text x="466.20" y="650.50" font-size="11" text-anchor="middle" font-weight="normal" fill="#111"  stroke="#111" stroke-width="0.18">Thiorphan</text>
<line x1="500.90" y1="637.80" x2="553.40" y2="637.80" stroke="#9a9a9a" stroke-width="1" />
<text x="527.15" y="650.50" font-size="11" text-anchor="middle" font-weight="normal" fill="#111"  stroke="#111" stroke-width="0.18">Triflusal</text>
<line x1="562.40" y1="637.80" x2="615.50" y2="637.80" stroke="#9a9a9a" stroke-width="1" />
<text x="588.95" y="650.50" font-size="11" text-anchor="middle" font-weight="normal" fill="#111"  stroke="#111" stroke-width="0.18">Milrinone</text>
<line x1="623.70" y1="637.80" x2="676.80" y2="637.80" stroke="#9a9a9a" stroke-width="1" />
<text x="650.25" y="650.50" font-size="11" text-anchor="middle" font-weight="normal" fill="#111"  stroke="#111" stroke-width="0.18">Adiphenine</text>
<text transform="translate(373.60,494.20) rotate(-90)" font-size="11" text-anchor="middle" fill="#111" stroke="#111" stroke-width="0.18">Maximum neurite length</text>
<text transform="translate(386.20,494.20) rotate(-90)" font-size="11" text-anchor="middle" fill="#111" stroke="#111" stroke-width="0.18">(percentage of control)</text>
</svg>
</body></html>
